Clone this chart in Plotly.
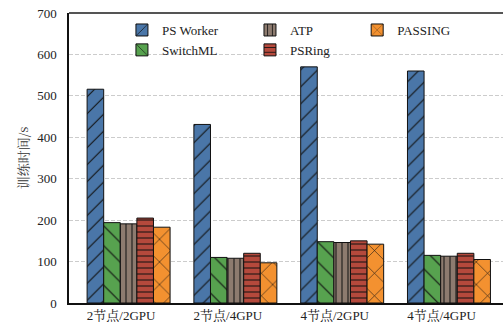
import plotly.graph_objects as go

categories = ["2节点/2GPU", "2节点/4GPU", "4节点/2GPU", "4节点/4GPU"]
series_names = ["PS Worker", "SwitchML", "ATP", "PSRing", "PASSING"]
ps_worker = [516, 431, 570, 560]
switchml = [194, 110, 148, 115]
atp = [191, 108, 146, 113]
psring = [205, 120, 150, 120]
passing = [183, 97, 142, 105]
y_ticks = [0, 100, 200, 300, 400, 500, 600, 700]

values = [ps_worker, switchml, atp, psring, passing]
colors = ["#4a76a8", "#57a24f", "#8d7b6f", "#b5493c", "#f39130"]
shapes = ["/", "\\", "|", "-", "x"]
sizes = [12, 14, 6, 6, 16]
solid = [0.09, 0.08, 0.17, 0.17, 0.07]
legends = ["legend", "legend", "legend2", "legend2", "legend3"]

xpos = list(range(len(categories)))
SERIF = "Liberation Serif, Times New Roman, Noto Serif CJK SC, Noto Sans CJK SC, serif"

fig = go.Figure()
for name, vals, c, sh, sz, so, lg in zip(series_names, values, colors, shapes, sizes, solid, legends):
    fig.add_trace(go.Bar(
        x=xpos, y=vals, name=name, legend=lg,
        marker=dict(color=c, line=dict(color="#111111", width=1),
                    pattern=dict(shape=sh, size=sz, solidity=so, fgcolor="#111111",
                                 bgcolor=c, fgopacity=1)),
    ))

legend_common = dict(font=dict(family=SERIF, size=13, color="#222"), bgcolor="rgba(0,0,0,0)",
                     xanchor="left", yanchor="top", yref="paper", xref="paper")
fig.update_layout(
    width=503, height=322,
    margin=dict(l=69, r=0, t=13, b=19),
    paper_bgcolor="white", plot_bgcolor="white",
    barmode="group", bargap=0.223, bargroupgap=0,
    font=dict(family=SERIF, size=13, color="#222"),
    legend=dict(x=0.122, y=0.993, **legend_common),
    legend2=dict(x=0.417, y=0.993, **legend_common),
    legend3=dict(x=0.664, y=0.993, **legend_common),
    xaxis=dict(range=[-0.558, 3.506], tickmode="array",
               tickvals=[p - 0.07 for p in xpos], ticktext=categories,
               showgrid=False, zeroline=False, showline=True, linecolor="#111", linewidth=1.5,
               ticks="", tickfont=dict(family=SERIF, size=13, color="#222")),
    yaxis=dict(range=[0, 700], tickmode="array", tickvals=y_ticks,
               showgrid=True, gridcolor="#cccccc", gridwidth=1, griddash="4px,2px",
               zeroline=False, showline=True, linecolor="#111", linewidth=1.5,
               ticks="", ticklabelstandoff=8,
               tickfont=dict(family=SERIF, size=13, color="#222"),
               title=dict(text="训练时间/s", standoff=6,
                          font=dict(family="Noto Serif CJK SC, Noto Sans CJK SC", size=13, color="#333"))),
    shapes=[dict(type="line", xref="paper", yref="paper", x0=0, x1=1, y0=1, y1=1,
                 line=dict(color="#555555", width=2))],
)

fig.write_html("out.html", config={"displayModeBar": False},
               post_script="document.body.style.margin='0';")
